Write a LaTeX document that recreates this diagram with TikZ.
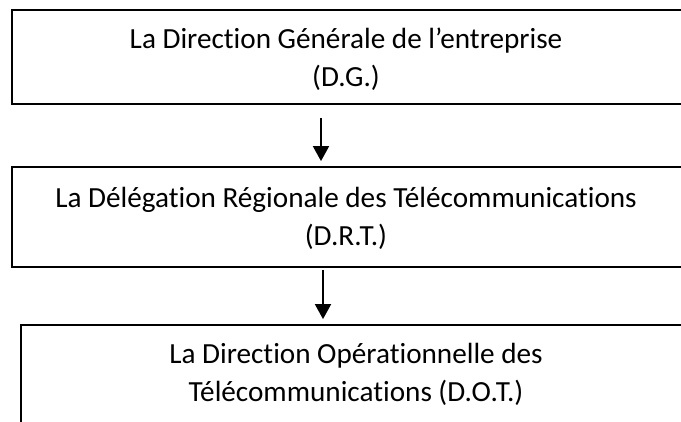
\documentclass[tikz,border=0pt]{standalone}
\usepackage{fontspec}
\setmainfont{Carlito}[Ligatures=NoCommon]
\usetikzlibrary{arrows.meta}
\begin{document}
\begin{tikzpicture}[x=1pt,y=-1pt,
  box/.style={draw=black, line width=1.8pt, rectangle, inner sep=0pt},
  txt/.style={font=\fontsize{29.2}{38}\selectfont, align=center, inner sep=0pt, anchor=base, text=black},
  arr/.style={line width=1.8pt, -{Triangle[length=15pt,width=16pt]}}]
\clip (0,0) rectangle (681,421);
\useasboundingbox (0,0) rectangle (681,421);
\node[box, minimum width=670pt, minimum height=94pt] (b1) at (347,57) {};
\node[box, minimum width=670pt, minimum height=100pt] (b2) at (347,217) {};
\node[box, minimum width=670pt, minimum height=130pt] (b3) at (356,390) {};
\node[txt] (t1) at (346,86) {La Direction Générale de l’entreprise\\(D.G.)};
\node[txt] (t2) at (346,245) {La Délégation Régionale des Télécommunications\\(D.R.T.)};
\node[txt] (t3) at (356,401) {La Direction Opérationnelle des\\Télécommunications (D.O.T.)};
\coordinate (x1) at (321,0);
\coordinate (x2) at (323,0);
\draw[arr, shorten <=13pt, shorten >=5pt] (b1.south -| x1) -- (b2.north -| x1);
\draw[arr, shorten <=2pt, shorten >=5pt] (b2.south -| x2) -- (b3.north -| x2);
\end{tikzpicture}
\end{document}
